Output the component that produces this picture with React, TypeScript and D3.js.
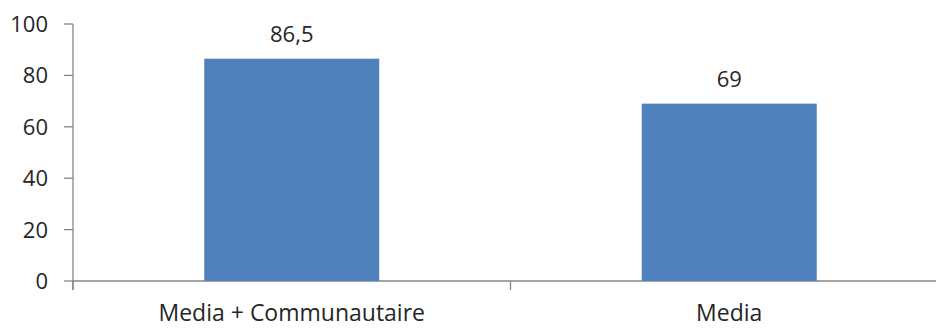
import React from "react";
import * as d3 from "d3";

const categories = ["Media + Communautaire", "Media"];
const values = [86.5, 69];
const valueLabels = ["86,5", "69"];
const yTicks = [0, 20, 40, 60, 80, 100];

const W = 936;
const H = 329;
const FONT = "'Open Sans', sans-serif";
const TEXT = "#262626";
const AXIS = "#868686";
const BAR = "#4F81BD";

export default function App() {
  const x = d3.scaleBand<string>().domain(categories).range([73, 948]).paddingInner(0.6).paddingOuter(0.3);
  const y = d3.scaleLinear().domain([0, 100]).range([281, 24]);
  const x0 = 73;
  const bandStep = (948 - 73) / categories.length;

  return (
    <svg width={W} height={H} style={{ position: "absolute", left: 0, top: 0, background: "#fff" }}>
      <line x1={x0} x2={x0} y1={y(100)} y2={290} stroke={AXIS} strokeWidth={1.3} />
      {yTicks.map((t) => (
        <g key={t}>
          <line x1={64} x2={x0} y1={y(t)} y2={y(t)} stroke={AXIS} strokeWidth={1.3} />
          <text x={48} y={y(t) + 8} textAnchor="end" fontFamily={FONT} fontSize={22} fill={TEXT}>
            {t}
          </text>
        </g>
      ))}
      <line x1={x0} x2={W} y1={y(0)} y2={y(0)} stroke={AXIS} strokeWidth={1.3} />
      {d3.range(categories.length + 1).map((i) => (
        <line key={i} x1={x0 + i * bandStep} x2={x0 + i * bandStep} y1={y(0)} y2={290} stroke={AXIS} strokeWidth={1.3} />
      ))}
      {categories.map((c, i) => {
        const bx = x(c)!;
        const bw = x.bandwidth();
        return (
          <g key={c}>
            <rect x={bx} y={y(values[i])} width={bw} height={y(0) - y(values[i])} fill={BAR} />
            <text x={bx + bw / 2} y={y(values[i]) - 17} textAnchor="middle" fontFamily={FONT} fontSize={22} fill={TEXT}>
              {valueLabels[i]}
            </text>
            <text x={bx + bw / 2} y={321} textAnchor="middle" fontFamily={FONT} fontSize={23} fill={TEXT}>
              {c}
            </text>
          </g>
        );
      })}
    </svg>
  );
}
